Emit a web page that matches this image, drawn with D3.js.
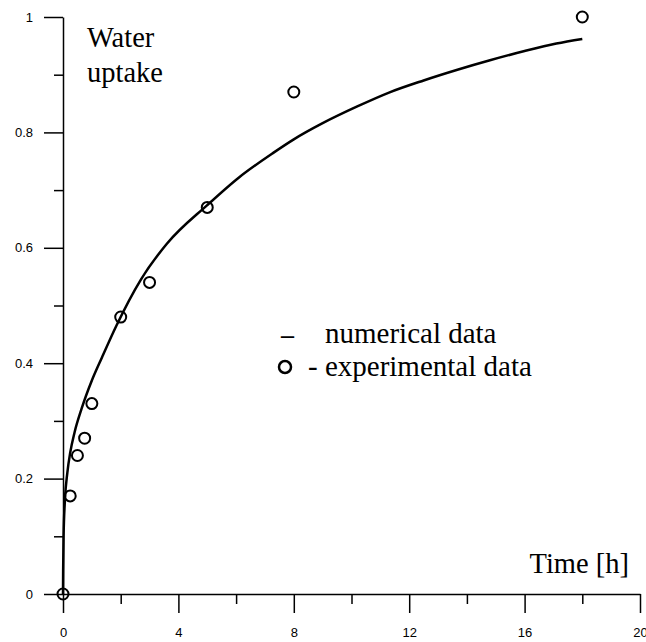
<!DOCTYPE html>
<html>
<head>
<meta charset="utf-8">
<script src="https://cdn.jsdelivr.net/npm/d3@7"></script>
<style>
  body { margin: 0; background: #fff; }
  svg { display: block; }
  .tick text { font-family: "Liberation Sans", Arial, sans-serif; font-size: 13px; fill: #000; }
  .lbl { font-family: "Liberation Serif", "Times New Roman", serif; fill: #000; }
</style>
</head>
<body>
<svg id="chart" width="646" height="642"></svg>
<script>
// experimental points
const expTime = [0, 0.25, 0.5, 0.75, 1, 2, 3, 5, 8, 18];
const expUptake = [0, 0.17, 0.24, 0.27, 0.33, 0.48, 0.54, 0.67, 0.87, 1.0];

// numerical curve
const numTime = [0, 0.005, 0.02, 0.07, 0.15, 0.25, 0.4, 0.65, 1.0, 1.35, 1.85, 2.7, 3.6, 5.0, 6.1, 7.3, 8.0, 9.0, 10.2, 11.3, 12.5, 13.7, 14.8, 16.0, 17.1, 18.0];
const numUptake = [0, 0.04, 0.10, 0.165, 0.21, 0.245, 0.28, 0.322, 0.37, 0.41, 0.465, 0.545, 0.607, 0.674, 0.722, 0.765, 0.788, 0.816, 0.845, 0.869, 0.890, 0.909, 0.925, 0.941, 0.954, 0.962];

const xTicks = [0, 4, 8, 12, 16, 20];
const xMinor = [2, 6, 10, 14, 18];
const yTicks = [0, 0.2, 0.4, 0.6, 0.8, 1];
const yMinor = [0.1, 0.3, 0.5, 0.7, 0.9];

const svg = d3.select('#chart');

const x = d3.scaleLinear().domain([0, 20]).range([63, 640]);
const y = d3.scaleLinear().domain([0, 1]).range([594, 17]);

// minor ticks first
svg.append('g')
  .attr('transform', 'translate(0,594)')
  .call(d3.axisBottom(x).tickValues(xMinor).tickSize(10).tickSizeOuter(0).tickFormat(''))
  .call(g => g.select('.domain').remove());
svg.append('g')
  .attr('transform', 'translate(63,0)')
  .call(d3.axisLeft(y).tickValues(yMinor).tickSize(9).tickSizeOuter(0).tickFormat(''))
  .call(g => g.select('.domain').remove());

svg.append('g')
  .attr('transform', 'translate(0,594)')
  .call(d3.axisBottom(x).tickValues(xTicks).tickSize(19).tickPadding(15).tickSizeOuter(0).tickFormat(d3.format('d')));
svg.append('g')
  .attr('transform', 'translate(63,0)')
  .call(d3.axisLeft(y).tickValues(yTicks).tickSize(19).tickPadding(11).tickSizeOuter(0).tickFormat(d => String(+d.toFixed(1))));

svg.selectAll('.domain, .tick line').attr('stroke', '#000').attr('stroke-width', 1.5);

// numerical curve
const pts = numTime.map((t, i) => [t, numUptake[i]]);
svg.append('path')
  .datum(pts)
  .attr('fill', 'none')
  .attr('stroke', '#000')
  .attr('stroke-width', 2.5)
  .attr('stroke-linejoin', 'round')
  .attr('d', d3.line().x(d => x(d[0])).y(d => y(d[1])).curve(d3.curveMonotoneX));

// experimental circles
svg.append('g').selectAll('circle')
  .data(expTime.map((t, i) => [t, expUptake[i]]))
  .join('circle')
  .attr('cx', d => x(d[0]))
  .attr('cy', d => y(d[1]))
  .attr('r', 5.5)
  .attr('fill', 'none')
  .attr('stroke', '#000')
  .attr('stroke-width', 2);

// labels
svg.append('text').attr('class', 'lbl').attr('x', 87).attr('y', 47).style('font-size', '28.5px').text('Water');
svg.append('text').attr('class', 'lbl').attr('x', 87).attr('y', 82).style('font-size', '28.5px').text('uptake');
svg.append('text').attr('class', 'lbl').attr('x', 629).attr('y', 573).attr('text-anchor', 'end').style('font-size', '28.5px').text('Time [h]');

// legend
svg.append('text').attr('class', 'lbl').attr('x', 281).attr('y', 343).style('font-size', '26px').style('font-weight', 'bold').text('–');
svg.append('text').attr('class', 'lbl').attr('x', 325).attr('y', 343).style('font-size', '29px').text('numerical data');
svg.append('circle').attr('cx', 285).attr('cy', 367).attr('r', 6)
  .attr('fill', 'none').attr('stroke', '#000').attr('stroke-width', 2.5);
svg.append('text').attr('class', 'lbl').attr('x', 308).attr('y', 376).style('font-size', '29px').text('- experimental data');
</script>
</body>
</html>
